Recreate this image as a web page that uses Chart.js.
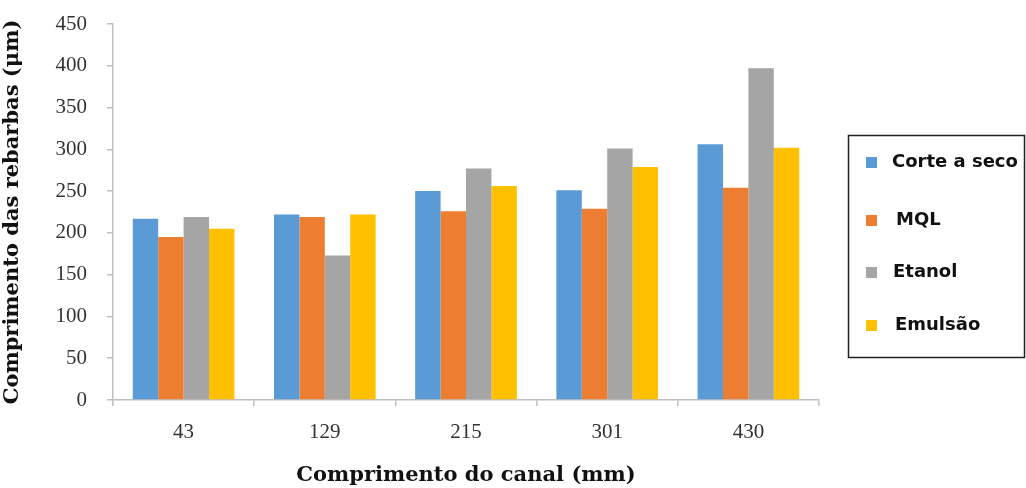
<!DOCTYPE html>
<html>
<head>
<meta charset="utf-8">
<script src="https://cdn.jsdelivr.net/npm/chart.js@4/dist/chart.umd.min.js"></script>
<style>
  html, body { margin: 0; padding: 0; background: #ffffff; }
  #wrap { width: 1026px; height: 488px; position: relative; }
</style>
</head>
<body>
<div id="wrap"><canvas id="c" width="1026" height="488"></canvas></div>
<script>
// Channel lengths (mm) on the x axis
const categories = ['43', '129', '215', '301', '430'];

// Burr length (µm) for each cooling condition
const corteASeco = [217, 222, 250, 251, 306];
const mql        = [195, 219, 226, 229, 254];
const etanol     = [219, 173, 277, 301, 397];
const emulsao    = [205, 222, 256, 279, 302];

const seriesNames  = ['Corte a seco', 'MQL', 'Etanol', 'Emulsão'];
const seriesColors = ['#5B9BD5', '#ED7D31', '#A5A5A5', '#FFC000'];
const seriesValues = [corteASeco, mql, etanol, emulsao];

const AXIS_GRAY = '#bfbfbf';

// Framed legend drawn to the right of the plot
const boxedLegend = {
  id: 'boxedLegend',
  afterDraw(chart) {
    const ctx = chart.ctx;
    const x0 = 848, y0 = 135, w = 176, h = 222;
    ctx.save();
    ctx.strokeStyle = '#222';
    ctx.lineWidth = 1.5;
    ctx.strokeRect(x0 + 0.5, y0 + 0.5, w, h);
    const rowY = [162, 220, 272, 325];
    const textX = [892, 896, 893, 895];
    ctx.font = 'bold 18px "DejaVu Sans", sans-serif';
    ctx.textBaseline = 'middle';
    ctx.textAlign = 'left';
    chart.data.datasets.forEach((ds, i) => {
      ctx.fillStyle = ds.backgroundColor;
      ctx.fillRect(866, rowY[i] - 5, 11, 11);
      ctx.fillStyle = '#111';
      ctx.fillText(ds.label, textX[i], rowY[i]);
    });
    ctx.restore();
  }
};

new Chart(document.getElementById('c'), {
  type: 'bar',
  data: {
    labels: categories,
    datasets: seriesNames.map((name, i) => ({
      label: name,
      data: seriesValues[i],
      backgroundColor: seriesColors[i],
      borderWidth: 0,
      categoryPercentage: 0.72,
      barPercentage: 1.0
    }))
  },
  options: {
    responsive: false,
    animation: false,
    devicePixelRatio: 1,
    layout: { padding: { left: 0, right: 207, top: 24, bottom: 0 } },
    plugins: {
      legend: { display: false },
      tooltip: { enabled: false }
    },
    scales: {
      x: {
        afterFit(scale) { scale.height = 88; scale.paddingLeft = 0; scale.paddingRight = 0; },
        border: { color: AXIS_GRAY, width: 1.5 },
        grid: { display: true, drawOnChartArea: false, color: AXIS_GRAY, tickLength: 6, offset: true, lineWidth: 1.5 },
        ticks: { color: '#333', padding: 14, font: { family: '"Liberation Serif", serif', size: 21 } },
        title: {
          display: true,
          text: 'Comprimento do canal (mm)',
          color: '#111',
          font: { family: '"DejaVu Serif", serif', size: 21, weight: 'bold' },
          padding: { top: 12, bottom: 0 }
        }
      },
      y: {
        min: 0,
        max: 450,
        afterFit(scale) { scale.width = 113; scale.paddingTop = 0; scale.paddingBottom = 0; },
        border: { color: AXIS_GRAY, width: 1.5 },
        grid: { display: true, drawOnChartArea: false, color: AXIS_GRAY, tickLength: 6, lineWidth: 1.5 },
        ticks: { stepSize: 50, color: '#333', padding: 20, font: { family: '"Liberation Serif", serif', size: 21 } },
        title: {
          display: true,
          text: 'Comprimento das rebarbas (μm)',
          color: '#111',
          font: { family: '"DejaVu Serif", serif', size: 21, weight: 'bold' },
          padding: { top: 0, bottom: 4 }
        }
      }
    }
  },
  plugins: [boxedLegend]
});
</script>
</body>
</html>
